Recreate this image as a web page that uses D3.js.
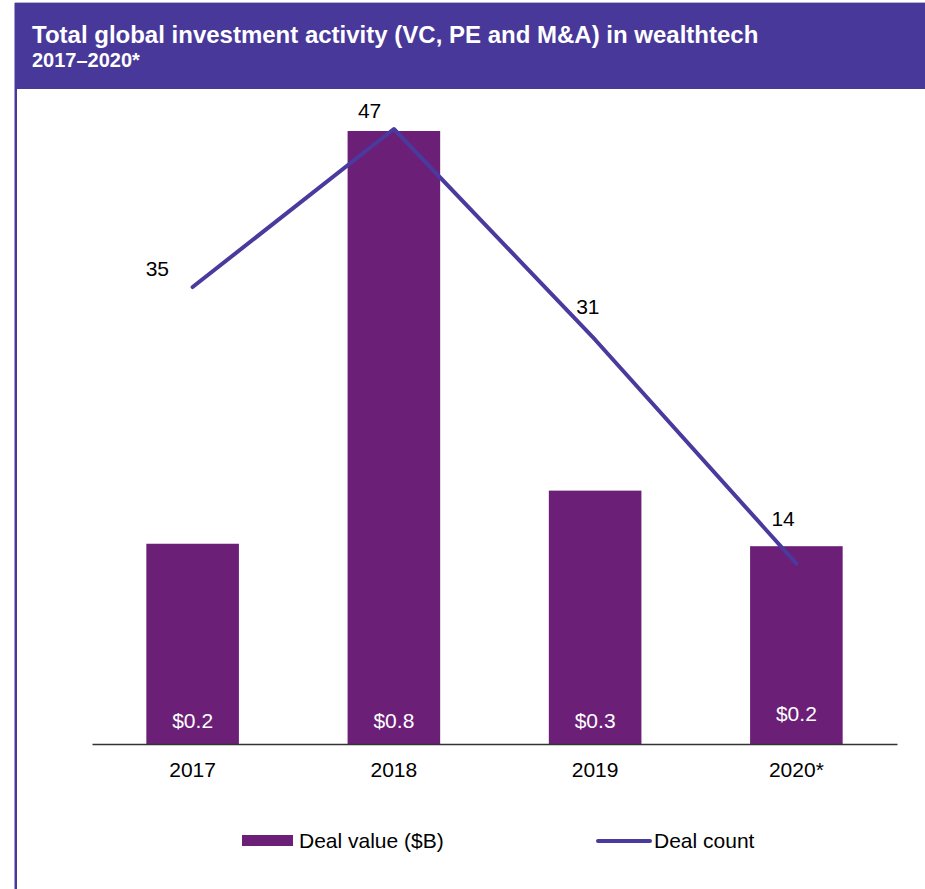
<!DOCTYPE html>
<html>
<head>
<meta charset="utf-8">
<script src="https://cdn.jsdelivr.net/npm/d3@7"></script>
<style>
  body { margin: 0; background: #fff; }
  svg { display: block; font-family: "Liberation Sans", Arial, sans-serif; }
</style>
</head>
<body>
<div class="chart"></div>
<script>
const years = ['2017', '2018', '2019', '2020*']
const dealValue = [0.245, 0.75, 0.31, 0.242]
const dealValueLabels = ['$0.2', '$0.8', '$0.3', '$0.2']
const dealCount = [35, 47, 31, 14]

// label nudges for the count labels, as placed in the original
const countLabelDx = [-47, -36, -19, -25]
const countLabelDy = [-11, -11, -26, -38]

const W = 925, H = 889
const purple = '#48389a'
const barColor = '#6b1f77'
const lineColor = '#4a3a9e'
const fs = 21

const svg = d3.select('.chart').append('svg')
    .attr('width', W)
    .attr('height', H)

// frame: header band + left rule
svg.append('line')
    .attr('x1', 15).attr('x2', W).attr('y1', 2.5).attr('y2', 2.5)
    .attr('stroke', '#b8b4cc').attr('stroke-width', 1)
svg.append('rect')
    .attr('x', 15).attr('y', 3)
    .attr('width', W - 15).attr('height', 86)
    .attr('fill', purple)
svg.append('rect')
    .attr('x', 14.5).attr('y', 3)
    .attr('width', 2.5).attr('height', H)
    .attr('fill', purple)

svg.append('text')
    .attr('x', 32).attr('y', 43)
    .attr('fill', '#fff')
    .attr('font-weight', 'bold')
    .attr('font-size', 24)
    .text('Total global investment activity (VC, PE and M&A) in wealthtech')
svg.append('text')
    .attr('x', 32).attr('y', 67)
    .attr('fill', '#fff')
    .attr('font-weight', 'bold')
    .attr('font-size', 20)
    .text('2017–2020*')

const baseY = 744

const x = d3.scaleBand()
    .domain(years)
    .range([92, 897])
    .paddingInner(0.54)
    .paddingOuter(0.27)

const y = d3.scaleLinear()
    .domain([0, 0.75])
    .range([baseY, 131])

const y2 = d3.scaleLinear()
    .domain([0, 47])
    .range([748, 129])

const data = years.map((yr, i) => ({
  year: yr,
  value: dealValue[i],
  label: dealValueLabels[i],
  count: dealCount[i],
  dx: countLabelDx[i],
  dy: countLabelDy[i]
}))

svg.selectAll('.bar')
    .data(data)
    .enter().append('rect')
    .attr('class', 'bar')
    .attr('x', d => x(d.year))
    .attr('width', x.bandwidth())
    .attr('y', d => y(d.value))
    .attr('height', d => baseY - y(d.value))
    .attr('fill', barColor)

svg.selectAll('.bar-label')
    .data(data)
    .enter().append('text')
    .attr('class', 'bar-label')
    .attr('x', d => x(d.year) + x.bandwidth() / 2)
    .attr('y', (d, i) => i === 3 ? 721 : 728)
    .attr('text-anchor', 'middle')
    .attr('fill', '#fff')
    .attr('font-size', fs)
    .text(d => d.label)

// x axis
const axis = svg.append('g')
    .attr('transform', 'translate(0,' + baseY + ')')
    .call(d3.axisBottom(x).tickSize(0).tickPadding(18))
axis.select('.domain').attr('stroke', '#333').attr('stroke-width', 1.5)
axis.selectAll('text')
    .attr('font-size', fs)
    .attr('fill', '#000')
    .attr('font-family', '"Liberation Sans", Arial, sans-serif')

// deal count line
const line = d3.line()
    .x(d => x(d.year) + x.bandwidth() / 2)
    .y(d => y2(d.count))

svg.append('path')
    .datum(data)
    .attr('d', line)
    .attr('fill', 'none')
    .attr('stroke', lineColor)
    .attr('stroke-width', 4)
    .attr('stroke-linecap', 'round')
    .attr('stroke-linejoin', 'round')

svg.selectAll('.count-label')
    .data(data)
    .enter().append('text')
    .attr('class', 'count-label')
    .attr('x', d => x(d.year) + x.bandwidth() / 2 + d.dx)
    .attr('y', d => y2(d.count) + d.dy)
    .attr('font-size', fs)
    .attr('fill', '#000')
    .text(d => d.count)

// legend
const legend = svg.append('g')
legend.append('rect')
    .attr('x', 242).attr('y', 835)
    .attr('width', 51).attr('height', 11)
    .attr('fill', barColor)
legend.append('text')
    .attr('x', 299).attr('y', 848)
    .attr('font-size', fs)
    .text('Deal value ($B)')
legend.append('line')
    .attr('x1', 598).attr('x2', 650)
    .attr('y1', 841).attr('y2', 841)
    .attr('stroke', lineColor)
    .attr('stroke-width', 4)
    .attr('stroke-linecap', 'round')
legend.append('text')
    .attr('x', 654).attr('y', 848)
    .attr('font-size', fs)
    .text('Deal count')
</script>
</body>
</html>
